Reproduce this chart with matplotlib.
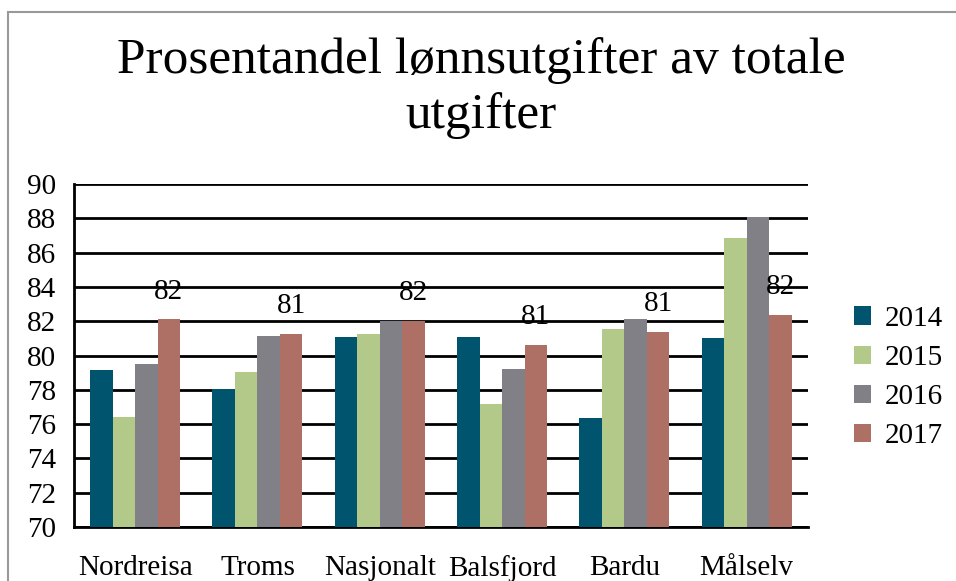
import matplotlib
matplotlib.use("Agg")
import matplotlib.pyplot as plt
import numpy as np
from matplotlib.patches import Rectangle, Patch

categories = ["Nordreisa", "Troms", "Nasjonalt", "Balsfjord", "Bardu", "Målselv"]
years = ["2014", "2015", "2016", "2017"]
v2014 = [79.15, 78.05, 81.1, 81.1, 76.35, 81.0]
v2015 = [76.4, 79.05, 81.25, 77.2, 81.55, 86.85]
v2016 = [79.5, 81.15, 82.0, 79.2, 82.1, 88.1]
v2017 = [82.1, 81.25, 82.0, 80.6, 81.4, 82.35]
series = [v2014, v2015, v2016, v2017]
colors = ["#00546E", "#B2C98A", "#808086", "#AE7065"]
yticks = list(range(70, 91, 2))
title_lines = ["Prosentandel lønnsutgifter av totale", "utgifter"]

plt.rcParams['font.family'] = ['Liberation Serif', 'DejaVu Serif']

fig = plt.figure(figsize=(9.56, 5.81), dpi=100)
ax = fig.add_axes([0.0774, 0.0929, 0.845 - 0.0774, 0.6833 - 0.0929])

x = np.arange(len(categories))
w = 0.184
for i, (vals, c) in enumerate(zip(series, colors)):
    ax.bar(x + (i - 1.5) * w, np.array(vals) - 70, bottom=70, width=w, color=c,
           label=years[i], zorder=3)

for xi, v in zip(x, v2017):
    ax.annotate(f"{round(v)}", (xi + 1.5 * w, v), xytext=(0, 20),
                textcoords="offset points", ha="center", va="center", fontsize=21,
                zorder=4)

ax.set_xlim(-0.5, len(categories) - 0.5)
ax.set_ylim(70, 90)
ax.set_yticks(yticks)
ax.set_xticks(x)
ax.set_xticklabels(categories)
ax.tick_params(axis='y', length=0, pad=13, labelsize=21)
ax.tick_params(axis='x', length=0, pad=20, labelsize=21)
ax.grid(axis='y', color='black', linewidth=2, zorder=1)
for s in ['top', 'right']:
    ax.spines[s].set_visible(False)
for s in ['left', 'bottom']:
    ax.spines[s].set_linewidth(2)
    ax.spines[s].set_color('black')

handles = [Patch(facecolor=c, label=y) for c, y in zip(colors, years)]
fig.legend(handles=handles, loc='center left', bbox_to_anchor=(0.893, 0.35),
           frameon=False, fontsize=21, handlelength=0.6, handleheight=0.6,
           handletextpad=0.45, labelspacing=0.45, borderpad=0, borderaxespad=0)

fig.text(0.503, 1 - 73 / 581, title_lines[0], ha='center', va='baseline', fontsize=37)
fig.text(0.503, 1 - 128 / 581, title_lines[1], ha='center', va='baseline', fontsize=37)

fig.patches.append(Rectangle((8 / 956, -0.1), 2, 1.1 - 12 / 581,
                             transform=fig.transFigure, fill=False,
                             edgecolor='#999999', linewidth=1.5))

fig.savefig("out.png", dpi=100)
